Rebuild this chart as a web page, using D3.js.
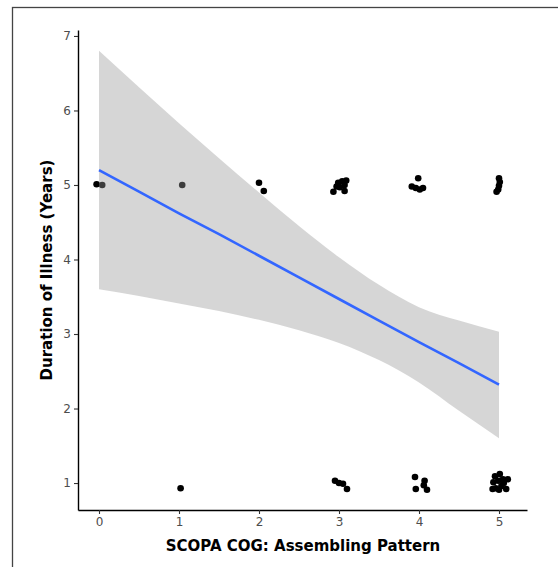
<!DOCTYPE html>
<html>
<head>
<meta charset="utf-8">
<script src="https://cdn.jsdelivr.net/npm/d3@7"></script>
<style>
  body { margin: 0; background: #fff; }
  svg { display: block; font-family: "DejaVu Sans", sans-serif; }
</style>
</head>
<body>
<svg id="chart"></svg>
<script>
// jittered points (x, y)
let pointX = [-0.03, 0.04, 1.04, 2.0, 2.06,
  2.93, 2.99, 3.04, 3.01, 3.07, 3.07, 2.97, 3.09,
  3.91, 3.96, 3.99, 4.01, 4.05,
  4.97, 4.99, 5.0, 5.01, 5.0,
  1.02,
  2.95, 3.0, 3.05, 3.1,
  3.95, 3.96, 4.07, 4.06, 4.1,
  4.95, 5.01, 4.93, 4.99, 5.05, 5.11, 4.96, 5.03, 5.09, 5.0, 4.92, 5.06];
let pointY = [5.01, 5.0, 5.0, 5.03, 4.92,
  4.91, 5.03, 5.05, 4.97, 5.0, 4.92, 4.98, 5.06,
  4.98, 4.96, 5.09, 4.94, 4.96,
  4.91, 4.94, 4.99, 5.04, 5.09,
  0.93,
  1.03, 1.0, 0.99, 0.92,
  1.08, 0.92, 1.03, 0.97, 0.91,
  1.09, 1.12, 1.01, 1.03, 1.05, 1.05, 0.93, 0.96, 0.92, 0.91, 0.92, 1.0];

// fitted line and confidence band
let fitX = [0, 0.5, 1, 1.5, 2, 2.5, 3, 3.5, 4, 4.5, 5];
let fitY = [5.2, 4.91, 4.62, 4.34, 4.05, 3.76, 3.47, 3.18, 2.89, 2.61, 2.32];
let bandLo = [3.6, 3.51, 3.41, 3.31, 3.19, 3.05, 2.88, 2.65, 2.35, 1.97, 1.6];
let bandHi = [6.8, 6.31, 5.83, 5.36, 4.9, 4.45, 4.03, 3.66, 3.36, 3.18, 3.03];

let xTicks = [0, 1, 2, 3, 4, 5];
let yTicks = [1, 2, 3, 4, 5, 6, 7];

let width = 558;
let height = 567;
let svg = d3.select('#chart').attr('width', width).attr('height', height);

// outer frame (cropped at right and bottom)
svg.append('rect')
  .attr('x', 12.5).attr('y', 7.5)
  .attr('width', 600).attr('height', 600)
  .attr('fill', 'none')
  .attr('stroke', '#444')
  .attr('stroke-width', 1.3);

let x = d3.scaleLinear().domain([-0.2625, 5.35]).range([78, 527]);
let y = d3.scaleLinear().domain([0.638, 7.08]).range([510, 30]);

// points first, band drawn over them like ggplot
svg.append('g')
  .selectAll('circle')
  .data(pointX)
  .enter()
  .append('circle')
  .attr('cx', (d) => x(d))
  .attr('cy', (d, i) => y(pointY[i]))
  .attr('r', 3.3)
  .attr('fill', '#000');

let band = d3.area()
  .x((d) => x(d))
  .y0((d, i) => y(bandLo[i]))
  .y1((d, i) => y(bandHi[i]))
  .curve(d3.curveMonotoneX);

svg.append('path')
  .datum(fitX)
  .attr('d', band)
  .attr('fill', '#999999')
  .attr('fill-opacity', 0.4);

let line = d3.line()
  .x((d) => x(d))
  .y((d, i) => y(fitY[i]));

svg.append('path')
  .datum(fitX)
  .attr('d', line)
  .attr('fill', 'none')
  .attr('stroke', '#3366FF')
  .attr('stroke-width', 2.6);

// axes
let xAxis = svg.append('g')
  .attr('transform', 'translate(0,510)')
  .call(d3.axisBottom(x).tickValues(xTicks).tickFormat(d3.format('d'))
    .tickSize(4).tickPadding(3).tickSizeOuter(0));
let yAxis = svg.append('g')
  .attr('transform', 'translate(78,0)')
  .call(d3.axisLeft(y).tickValues(yTicks).tickFormat(d3.format('d'))
    .tickSize(4).tickPadding(3).tickSizeOuter(0));

[xAxis, yAxis].forEach((g) => {
  g.select('.domain').attr('stroke', '#000').attr('stroke-width', 1.4);
  g.selectAll('.tick line').attr('stroke', '#333').attr('stroke-width', 1.1);
  g.selectAll('.tick text')
    .attr('fill', '#4d4d4d')
    .attr('font-size', 12)
    .attr('font-family', '"DejaVu Sans", sans-serif');
});

svg.append('text')
  .attr('x', 303)
  .attr('y', 551)
  .attr('text-anchor', 'middle')
  .attr('font-size', 15)
  .attr('font-weight', 'bold')
  .text('SCOPA COG: Assembling Pattern');

svg.append('text')
  .attr('transform', 'translate(52,270) rotate(-90)')
  .attr('text-anchor', 'middle')
  .attr('font-size', 15)
  .attr('font-weight', 'bold')
  .text('Duration of Illness (Years)');
</script>
</body>
</html>
